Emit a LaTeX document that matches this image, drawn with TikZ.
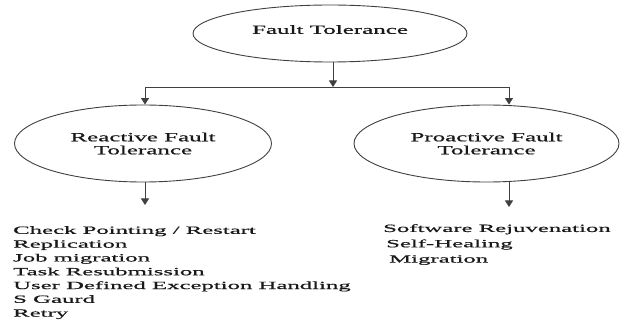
\documentclass[tikz,border=0pt]{standalone}
\usepackage{fontspec}
\setmainfont{Liberation Serif}
\newfontfamily\listfont{Liberation Serif}[FakeStretch=2.25,FakeBold=0.6]
\newfontfamily\titlefont{Liberation Serif}[FakeStretch=2.0,FakeBold=0.6]
\usetikzlibrary{shapes.geometric,arrows.meta}
\begin{document}
\begin{tikzpicture}[x=1pt,y=-1pt,
  oval/.style={ellipse,draw=black!75,line width=0.9pt,inner sep=0pt,
    font=\titlefont\fontsize{12.5}{13}\selectfont,align=center,text=black!90},
  conn/.style={draw=black!75,line width=0.9pt},
  arr/.style={conn,-{Triangle[width=8pt,length=6.5pt]}},
  listtext/.style={font=\listfont\fontsize{11}{13.8}\selectfont,align=left,
    text=black!90,inner sep=0pt}]
\path[fill=white] (0,0) rectangle (621,323);
\node[oval,minimum width=274,minimum height=57] (ft) at (330,33.5)
  {\raisebox{8pt}{Fault Tolerance}};
\node[oval,minimum width=257,minimum height=77] (rft) at (143,143.5)
  {Reactive Fault\\Tolerance};
\node[oval,minimum width=265,minimum height=77] (pft) at (486.5,143.5)
  {Proactive Fault\\Tolerance};
\coordinate (j) at (333,87);
\coordinate (jl) at (145,87);
\coordinate (jr) at (509,87);
\coordinate (la) at (145,205);
\coordinate (ra) at (509,207);
\draw[arr] (ft.south -| j) -- (j);
\draw[conn] (jl) -- (jr);
\draw[arr] (jl) -- (jl |- rft.north);
\draw[arr] (jr) -- (jr |- pft.north);
\node[listtext,anchor=north west] (rlist) at (13,226)
  {Check Pointing / Restart\\Replication\\Job migration\\Task Resubmission\\
   User Defined Exception Handling\\S Gaurd\\Retry};
\node[listtext,anchor=north west,font=\listfont\fontsize{11}{15.3}\selectfont] (plist) at (383,224)
  {Software Rejuvenation\\\hspace*{3pt}Self-Healing\\\hspace*{6pt}Migration};
\draw[arr] (rft.south -| la) -- (la);
\draw[arr] (pft.south -| ra) -- (ra);
\end{tikzpicture}
\end{document}
